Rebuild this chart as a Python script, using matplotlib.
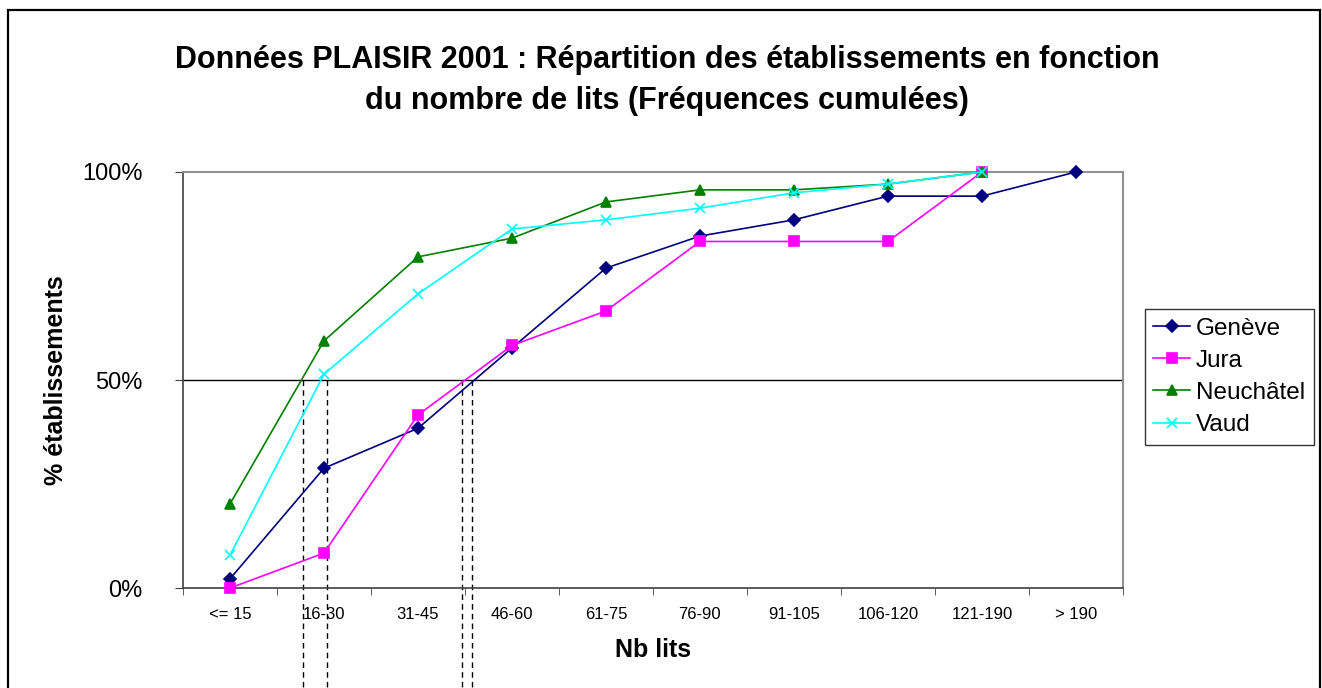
import numpy as np
import matplotlib
matplotlib.use("Agg")
import matplotlib.pyplot as plt
from matplotlib.patches import Rectangle
from matplotlib.ticker import FixedLocator, PercentFormatter

plt.rcParams['font.family'] = ['Liberation Sans', 'DejaVu Sans']

# categories of bed counts
categories = ["<= 15", "16-30", "31-45", "46-60", "61-75", "76-90",
              "91-105", "106-120", "121-190", "> 190"]

# cumulative frequencies per canton
geneve = [0.022, 0.288, 0.384, 0.577, 0.769, 0.846, 0.885, 0.942, 0.942, 1.0]
jura = [0.0, 0.084, 0.416, 0.583, 0.666, 0.833, 0.833, 0.833, 1.0]
neuchatel = [0.202, 0.594, 0.796, 0.841, 0.928, 0.957, 0.957, 0.971, 1.0]
vaud = [0.079, 0.514, 0.707, 0.863, 0.885, 0.913, 0.95, 0.971, 1.0]

# where the curves cross 50% (in category units), marked by dashed lines
crossings = [0.78, 1.03, 2.47, 2.57]

fig = plt.figure(figsize=(13.22, 6.88), dpi=100)
ax = fig.add_axes([0.1384, 0.1453, 0.7110, 0.6047])

series = [
    ("Genève", geneve, "#000080", "D", 6),
    ("Jura", jura, "#FF00FF", "s", 7),
    ("Neuchâtel", neuchatel, "#008000", "^", 7),
    ("Vaud", vaud, "#00FFFF", "x", 7),
]
for name, vals, col, mk, ms in series:
    x = np.arange(len(vals))
    ax.plot(x, vals, color=col, lw=1.2, marker=mk, ms=ms, mec=col, mfc=col,
            mew=1.2, label=name, clip_on=False, zorder=3)

# 50% line
ax.axhline(0.5, color="black", lw=1, zorder=1)

# dashed verticals from 50% down past the chart
for xc in crossings:
    ax.plot([xc, xc], [0.5, -0.35], color="black", lw=1, ls=(0, (4, 3)),
            clip_on=False, zorder=2)

ax.set_xlim(-0.5, len(categories) - 0.5)
ax.set_ylim(0, 1)
ax.set_xticks(np.arange(len(categories)))
ax.set_xticklabels(categories, fontsize=12)
ax.xaxis.set_minor_locator(FixedLocator(np.arange(len(categories) + 1) - 0.5))
ax.tick_params(axis="x", which="major", length=0, pad=14)
ax.tick_params(axis="x", which="minor", length=5, direction="out", color="#404040")
ax.set_yticks([0, 0.5, 1])
ax.yaxis.set_major_formatter(PercentFormatter(1.0, decimals=0))
ax.tick_params(axis="y", length=6, direction="out", labelsize=17, pad=23, color="#404040")

for s in ["left", "bottom"]:
    ax.spines[s].set_color("#404040")
    ax.spines[s].set_linewidth(1.2)
for s in ["top", "right"]:
    ax.spines[s].set_color("#909090")
    ax.spines[s].set_linewidth(1.5)

ax.set_xlabel("Nb lits", fontsize=18, fontweight="bold", labelpad=11)
ax.set_ylabel("% établissements", fontsize=18, fontweight="bold", labelpad=10)

fig.text(0.5045, 0.883,
         "Données PLAISIR 2001 : Répartition des établissements en fonction\n"
         "du nombre de lits (Fréquences cumulées)",
         ha="center", va="center", fontsize=22, fontweight="bold", linespacing=1.5)

leg = ax.legend(loc="upper left", bbox_to_anchor=(0.8661, 0.5509),
                bbox_transform=fig.transFigure, borderaxespad=0,
                fontsize=17.5, frameon=True, fancybox=False, edgecolor="black",
                handlelength=1.5, handletextpad=0.25, labelspacing=0.42,
                borderpad=0.35)
leg.get_frame().set_linewidth(1.0)

# outer chart frame
fig.patches.append(Rectangle((8 / 1322, -0.05), (1320 - 8) / 1322, 0.9855 + 0.05,
                             transform=fig.transFigure, fill=False,
                             ec="black", lw=1.6))

fig.savefig("out.png", dpi=100)
